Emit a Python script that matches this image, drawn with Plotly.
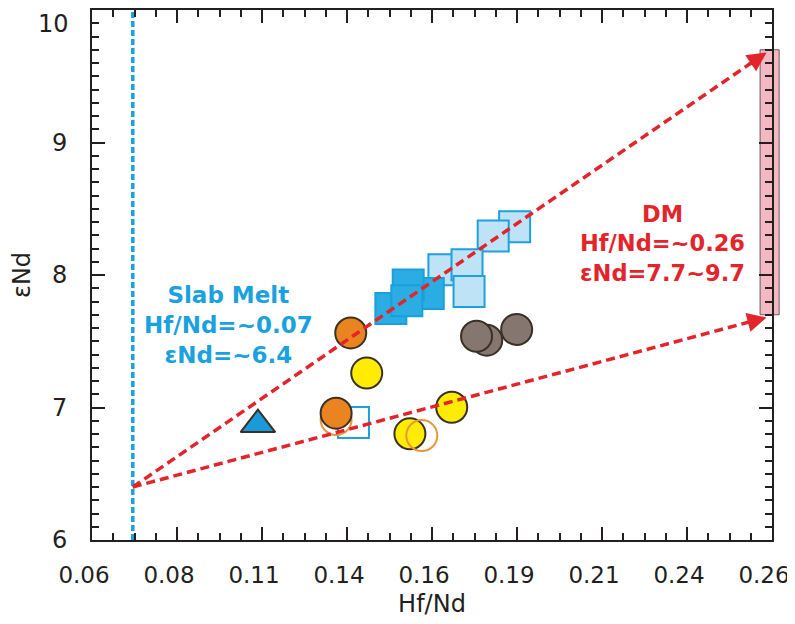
import plotly.graph_objects as go

# ---------------- axes ----------------
x_range = [0.06, 0.26]
y_range = [6, 10]
x_tickvals = [0.06, 0.085, 0.11, 0.135, 0.16, 0.185, 0.21, 0.235, 0.26]
x_ticktext = ["0.06", "0.08", "0.11", "0.14", "0.16", "0.19", "0.21", "0.24", "0.26"]
y_tickvals = [6, 7, 8, 9, 10]
y_ticktext = ["6", "7", "8", "9", "10"]

# ---------------- samples ----------------
light_sq_x = [0.1843, 0.1780, 0.1635, 0.1703, 0.1709]
light_sq_y = [8.364, 8.295, 8.040, 8.078, 7.876]
dark_sq_x = [0.1589, 0.1479, 0.1530, 0.1526]
dark_sq_y = [7.861, 7.748, 7.924, 7.805]
open_sq_x = [0.1369]
open_sq_y = [6.886]
yellow_x = [0.1408, 0.1535, 0.1658]
yellow_y = [7.260, 6.801, 7.002]
orange_open_x = [0.1318, 0.1570]
orange_open_y = [6.909, 6.788]
orange_x = [0.1361, 0.1318]
orange_y = [7.563, 6.957]
grey_x = [0.1761, 0.1731, 0.1849]
grey_y = [7.508, 7.538, 7.589]
tri_x = [0.1088]
tri_y = [6.871]

# ---------------- end members ----------------
slab_hfnd = 0.072
slab_end = 6.40
dm_hfnd = 0.2584
dm_upper = 9.68
dm_lower = 7.68
dm_bar_x = [0.2565, 0.2621]
dm_bar_y = [7.70, 9.70]

slab_label = "Slab Melt<br>Hf/Nd=~0.07<br>εNd=~6.4"
slab_label_pos = [0.100, 7.62]
dm_label = "DM<br>Hf/Nd=~0.26<br>εNd=7.7~9.7"
dm_label_pos = [0.2278, 8.234]

BLACK = "#231f20"
RED = "#e3242b"
BLUE = "#1ba1de"
OUT = "#3a3026"
FONT = "DejaVu Sans"

fig = go.Figure()

# slab melt vertical dashed line
fig.add_trace(go.Scatter(x=[slab_hfnd, slab_hfnd], y=y_range, mode="lines",
                         line=dict(color=BLUE, width=3.5, dash="6px,3px"),
                         hoverinfo="skip"))

# squares
fig.add_trace(go.Scatter(x=light_sq_x, y=light_sq_y, mode="markers",
                         marker=dict(symbol="square", size=31, color="#bfe3f6",
                                     line=dict(color="#1ea0dc", width=2))))
fig.add_trace(go.Scatter(x=dark_sq_x, y=dark_sq_y, mode="markers",
                         marker=dict(symbol="square", size=31, color="#2badE3",
                                     line=dict(color="#1a9fdc", width=2))))
fig.add_trace(go.Scatter(x=open_sq_x, y=open_sq_y, mode="markers",
                         marker=dict(symbol="square-open", size=31, color="#1ea0dc",
                                     line=dict(width=2))))
# circles
fig.add_trace(go.Scatter(x=yellow_x, y=yellow_y, mode="markers",
                         marker=dict(symbol="circle", size=31, color="#ffec00",
                                     line=dict(color=OUT, width=2))))
fig.add_trace(go.Scatter(x=orange_open_x, y=orange_open_y, mode="markers",
                         marker=dict(symbol="circle-open", size=31, color="#e8963c",
                                     line=dict(width=2))))
fig.add_trace(go.Scatter(x=orange_x, y=orange_y, mode="markers",
                         marker=dict(symbol="circle", size=31, color="#ea8420",
                                     line=dict(color=OUT, width=2))))
fig.add_trace(go.Scatter(x=grey_x, y=grey_y, mode="markers",
                         marker=dict(symbol="circle", size=31, color="#85776f",
                                     line=dict(color=OUT, width=2))))
fig.add_trace(go.Scatter(x=tri_x, y=tri_y, mode="markers",
                         marker=dict(symbol="triangle-up", size=30, color="#1b9ad9",
                                     line=dict(color=OUT, width=2))))

# mixing lines (dashed) with solid arrowheads at the DM end
for yend in [dm_upper, dm_lower]:
    fig.add_trace(go.Scatter(x=[slab_hfnd, dm_hfnd], y=[slab_end, yend],
                             mode="lines", cliponaxis=False,
                             line=dict(color=RED, width=3.5, dash="9px,5px")))
    back = 0.03
    fig.add_annotation(x=dm_hfnd, y=yend, xref="x", yref="y", axref="x", ayref="y",
                       ax=dm_hfnd - back * (dm_hfnd - slab_hfnd),
                       ay=yend - back * (yend - slab_end),
                       text="", showarrow=True, arrowhead=2, arrowsize=1.1,
                       arrowwidth=3.5, arrowcolor=RED, standoff=0, startstandoff=0)

# DM bar (straddles the right frame, so it is placed in paper units from the axis range)
def xp(v):
    return (v - x_range[0]) / (x_range[1] - x_range[0])

def yp(v):
    return (v - y_range[0]) / (y_range[1] - y_range[0])

fig.add_shape(type="rect", xref="paper", yref="paper",
              x0=xp(dm_bar_x[0]), x1=xp(dm_bar_x[1]),
              y0=yp(dm_bar_y[0]), y1=yp(dm_bar_y[1]),
              fillcolor="#f4b8c2", line=dict(color="#6b5a5c", width=1), layer="below")

fig.add_annotation(x=slab_label_pos[0], y=slab_label_pos[1], text=slab_label,
                   showarrow=False, font=dict(family=FONT, size=23, color=BLUE, weight="bold"),
                   align="center")
fig.add_annotation(x=dm_label_pos[0], y=dm_label_pos[1], text=dm_label,
                   showarrow=False, font=dict(family=FONT, size=22.5, color=RED, weight="bold"),
                   align="center")

# top y tick label sits just below the frame corner in the reference
fig.add_annotation(xref="paper", x=0, xanchor="right", xshift=-21,
                   y=y_tickvals[-1], yanchor="top", yshift=2,
                   text=y_ticktext[-1], showarrow=False,
                   font=dict(family=FONT, size=24, color=BLACK))

axis_common = dict(showline=True, linewidth=2, linecolor=BLACK, mirror="ticks",
                   ticks="inside", ticklen=13, tickwidth=2, tickcolor=BLACK,
                   showgrid=False, zeroline=False, ticklabeloverflow="allow")

fig.update_xaxes(range=x_range, tickmode="array", tickvals=x_tickvals, ticktext=x_ticktext,
                 ticklabelstandoff=13, ticklabelshift=-8,
                 tickfont=dict(family=FONT, size=23, color=BLACK),
                 minor=dict(ticks="inside", ticklen=7, tickwidth=2, tickcolor=BLACK,
                            tick0=x_range[0], dtick=0.00625, showgrid=False),
                 title=dict(text="Hf/Nd", font=dict(family=FONT, size=24, color=BLACK), standoff=9),
                 **axis_common)
fig.update_yaxes(range=y_range, tickmode="array", tickvals=y_tickvals,
                 ticktext=y_ticktext[:-1] + [""],
                 ticklabelstandoff=18,
                 tickfont=dict(family=FONT, size=24, color=BLACK),
                 minor=dict(ticks="inside", ticklen=7, tickwidth=2, tickcolor=BLACK,
                            tick0=y_range[0], dtick=0.1, showgrid=False),
                 title=dict(text="εNd", font=dict(family=FONT, size=24, color=BLACK), standoff=15),
                 **axis_common)

fig.update_layout(width=795, height=624, margin=dict(l=84, r=31, t=2, b=92),
                  paper_bgcolor="white", plot_bgcolor="rgba(0,0,0,0)",
                  showlegend=False, template="none")

fig.write_html("out.html")
